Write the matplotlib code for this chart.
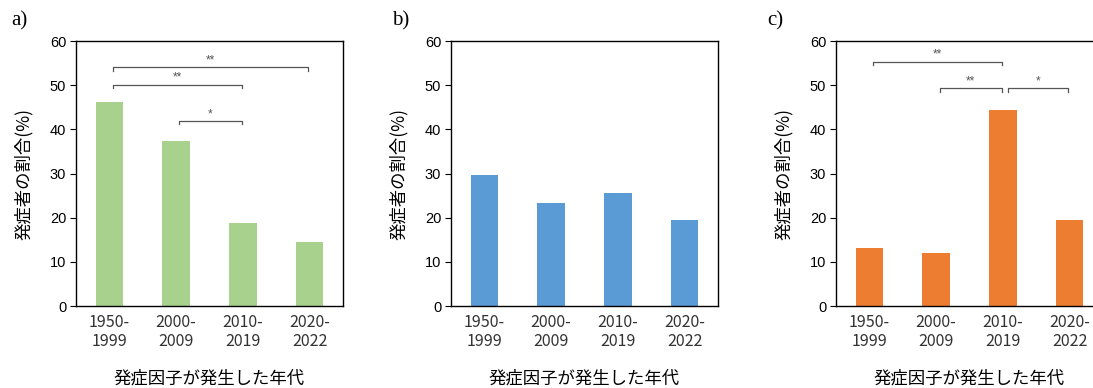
import matplotlib
matplotlib.use("Agg")
from matplotlib import pyplot as plt
import numpy as np

plt.rcParams['font.family'] = ['Liberation Sans', 'Noto Sans CJK JP', 'DejaVu Sans']

PERIOD_list = ['1950-\n1999', '2000-\n2009', '2010-\n2019', '2020-\n2022']
panel_a = [46.2, 37.4, 18.7, 14.6]
panel_b = [29.7, 23.4, 25.6, 19.5]
panel_c = [13.2, 12.1, 44.4, 19.5]

# significance brackets: (from bar, to bar, height, label)
sig_a = [(0, 3, 54.1, '**'), (0, 2, 50.1, '**'), (1, 2, 41.9, '*')]
sig_b = []
sig_c = [(0, 2, 55.3, '**'), (1, 2, 49.3, '**'), (2, 3, 49.3, '*')]

ylabel = '発症者の割合(%)'
xlabel = '発症因子が発生した年代'

colors = ['#A9D18E', '#5B9BD5', '#ED7D31']
panels = [panel_a, panel_b, panel_c]
sigs = [sig_a, sig_b, sig_c]
letters = ['a)', 'b)', 'c)']
lefts = [0.0695, 0.4126, 0.7649]
letter_x = [0.010, 0.359, 0.702]

fig = plt.figure(figsize=(10.93, 3.88), dpi=100)

X = np.arange(len(PERIOD_list))

for k in range(3):
    ax = fig.add_axes([lefts[k], 0.2113, 0.2443, 0.683])
    ax.bar(X, panels[k], width=0.41, color=colors[k], zorder=2)
    ax.set_xlim(-0.5, 3.5)
    ax.set_ylim(0, 60)
    ax.set_yticks(np.arange(0, 61, 10))
    ax.tick_params(axis='y', length=4, width=0.8, labelsize=10.5, pad=3)
    ax.tick_params(axis='x', length=0, pad=6)
    ax.set_xticks(X)
    ax.set_xticklabels(PERIOD_list, fontsize=11.5, family=['Noto Sans CJK JP'],
                       color='#333333', linespacing=1.1)
    for sp in ax.spines.values():
        sp.set_linewidth(1.0)
    ax.set_ylabel(ylabel, family=['Noto Sans CJK JP'], fontsize=12.5, labelpad=12)
    ax.set_xlabel(xlabel, family=['Noto Sans CJK JP'], fontsize=12.5, labelpad=14)

    for i, j, h, lab in sigs[k]:
        x0 = i + 0.05
        x1 = j - 0.02
        if k == 2 and i == 2:
            x0 = i + 0.07
        ax.plot([x0, x0, x1, x1], [h - 0.8, h, h, h - 0.8], color='#555555', lw=0.9,
                zorder=3)
        ax.text((x0 + x1) / 2, h + 0.2, lab, ha='center', va='bottom',
                fontsize=8.5, color='#555555')

    fig.text(letter_x[k], 0.945, letters[k], family='Liberation Serif',
             fontsize=15, ha='left', va='center')

fig.savefig('out.png', dpi=100)
